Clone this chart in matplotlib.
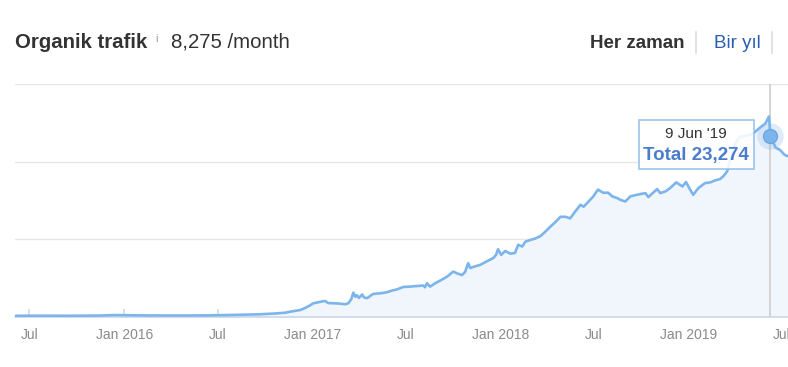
import numpy as np
import pandas as pd
import matplotlib
matplotlib.use("Agg")
from matplotlib import pyplot as plt
import matplotlib.dates as mdates
from matplotlib.ticker import FuncFormatter

plt.rcParams['font.family'] = ['Liberation Sans', 'DejaVu Sans']

# organic traffic
dates = ["2015-06-03", "2015-07-22", "2015-09-18", "2015-11-15", "2015-12-14",
         "2016-02-20", "2016-04-19", "2016-06-16", "2016-07-25", "2016-08-23",
         "2016-09-21", "2016-10-20", "2016-11-09", "2016-11-18", "2016-12-08",
         "2016-12-17", "2016-12-27", "2017-01-02", "2017-01-12", "2017-01-19",
         "2017-01-25", "2017-01-31", "2017-02-14", "2017-02-23", "2017-03-05",
         "2017-03-11", "2017-03-17", "2017-03-21", "2017-03-25", "2017-03-28",
         "2017-04-01", "2017-04-07", "2017-04-11", "2017-04-17", "2017-04-28",
         "2017-05-12", "2017-05-24", "2017-06-04", "2017-06-14", "2017-06-26",
         "2017-07-09", "2017-07-25", "2017-08-04", "2017-08-07", "2017-08-11",
         "2017-08-17", "2017-08-27", "2017-09-06", "2017-09-19", "2017-10-01",
         "2017-10-09", "2017-10-18", "2017-10-24", "2017-10-30", "2017-11-03",
         "2017-11-11", "2017-11-22", "2017-12-06", "2017-12-18", "2017-12-23",
         "2017-12-27", "2018-01-02", "2018-01-10", "2018-01-20", "2018-01-29",
         "2018-02-04", "2018-02-12", "2018-02-18", "2018-02-27", "2018-03-09",
         "2018-03-19", "2018-03-29", "2018-04-07", "2018-04-17", "2018-04-27",
         "2018-05-07", "2018-05-16", "2018-05-26", "2018-06-05", "2018-06-11",
         "2018-06-18", "2018-06-30", "2018-07-09", "2018-07-19", "2018-07-29",
         "2018-08-06", "2018-08-16", "2018-08-21", "2018-08-31", "2018-09-10",
         "2018-09-23", "2018-10-09", "2018-10-15", "2018-10-24", "2018-11-01",
         "2018-11-07", "2018-11-17", "2018-11-26", "2018-12-08", "2018-12-20",
         "2018-12-27", "2019-01-04", "2019-01-10", "2019-01-20", "2019-02-02",
         "2019-02-12", "2019-02-22", "2019-03-03", "2019-03-09", "2019-03-17",
         "2019-03-21", "2019-03-27", "2019-04-01", "2019-04-11", "2019-04-25",
         "2019-05-06", "2019-05-20", "2019-05-30", "2019-06-06", "2019-06-09",
         "2019-06-19", "2019-06-27", "2019-07-06", "2019-07-16"]
traffic = [155, 170, 160, 190, 250,
           200, 190, 210, 258, 300,
           350, 450, 555, 680, 900,
           1150, 1500, 1760, 1900, 2000,
           2060, 1800, 1760, 1720, 1640,
           1760, 2300, 3140, 2600, 2800,
           2450, 2900, 2500, 2430, 2960,
           3050, 3170, 3400, 3560, 3870,
           3910, 4000, 4050, 3830, 4350,
           3910, 4350, 4700, 5200, 5850,
           5600, 5400, 5800, 6930, 6300,
           6500, 6700, 7200, 7600, 8000,
           8730, 8000, 8500, 8150, 8250,
           9300, 9070, 9700, 9900, 10100,
           10400, 11000, 11600, 12200, 12900,
           12900, 12700, 13600, 14450, 14200,
           14670, 15530, 16400, 16000, 16000,
           15520, 15300, 15100, 14870, 15530,
           15740, 15950, 15440, 16000, 16470,
           15950, 16170, 16600, 17330, 16810,
           17380, 16390, 15740, 16600, 17250,
           17330, 17600, 17760, 18100, 18750,
           19860, 21000, 22300, 23220, 23350,
           23600, 24400, 24900, 25800, 23274,
           21800, 21540, 20900, 20600]

tick_dates = ["2015-07-01", "2016-01-01", "2016-07-01", "2017-01-01", "2017-07-01",
              "2018-01-01", "2018-07-01", "2019-01-01", "2019-07-01"]
y_grid = [0, 10000, 20000, 30000]
hover_date = "2019-06-09"
hover_value = 23274

x = pd.to_datetime(dates)
line_col = '#7cb5ec'

fig = plt.figure(figsize=(7.88, 3.67), dpi=100)
W, H = 788, 367
ax = fig.add_axes([15 / W, 1 - 317 / H, 773 / W, 233 / H])

ax.fill_between(x, traffic, 0, color='#f1f6fc', lw=0, zorder=1)
ax.plot(x, traffic, color=line_col, lw=1.9, zorder=3, solid_joinstyle='round')

ax.set_xlim(pd.Timestamp("2015-06-03"), pd.Timestamp("2019-07-13"))
ax.set_ylim(0, 30000)
ax.set_yticks(y_grid)
ax.yaxis.grid(True, color='#e6e6e6', lw=1)
ax.set_axisbelow(True)
ax.tick_params(axis='y', left=False, labelleft=False)
for s in ['top', 'left', 'right']:
    ax.spines[s].set_visible(False)
ax.spines['bottom'].set_color('#ccd6eb')
ax.spines['bottom'].set_linewidth(1.2)

ax.set_xticks(pd.to_datetime(tick_dates))
ax.xaxis.set_major_formatter(FuncFormatter(
    lambda v, p: mdates.num2date(v).strftime("Jan %Y") if mdates.num2date(v).month == 1 else "Jul"))
ax.tick_params(axis='x', direction='in', length=5.5, width=1.1, color='#ccd6eb',
               labelsize=10, labelcolor='#8a8a8a', pad=8)

# hover crosshair + marker
hd = pd.Timestamp(hover_date)
ax.axvline(hd, color='#cccccc', lw=1.2, zorder=2)
ax.plot([hd], [hover_value], 'o', ms=19, color=line_col, alpha=0.25, mec='none', zorder=4)
ax.plot([hd], [hover_value], 'o', ms=10, color=line_col, mec='#6aa6e0', mew=1, zorder=5)

# tooltip
bx0, by0, bx1, by1 = 639, 120, 754, 169
fig.patches.append(plt.Rectangle((bx0 / W, 1 - by1 / H), (bx1 - bx0) / W, (by1 - by0) / H,
                                 transform=fig.transFigure, facecolor='white', alpha=0.88,
                                 edgecolor='#8dbbe9', lw=1.2, zorder=10))
fig.text(696 / W, 1 - 138 / H, "9 Jun '19", ha='center', va='baseline',
         fontsize=11, color='#333333', zorder=11)
fig.text(696 / W, 1 - 160 / H, "Total 23,274", ha='center', va='baseline',
         fontsize=13.5, fontweight='bold', color='#4a7dcb', zorder=11)

# header
fig.text(15 / W, 1 - 47.5 / H, "Organik trafik", fontsize=14.7, fontweight='bold',
         color='#333333', va='baseline')
fig.text(155 / W, 1 - 42 / H, "i", fontsize=8, color='#999999', va='baseline')
fig.text(171 / W, 1 - 47.5 / H, "8,275 /month", fontsize=14.7, color='#333333', va='baseline')
fig.text(590 / W, 1 - 48 / H, "Her zaman", fontsize=13.5, fontweight='bold',
         color='#333333', va='baseline')
fig.text(714 / W, 1 - 48 / H, "Bir yıl", fontsize=13.5, color='#2a5db0', va='baseline')
for sx in [696, 772]:
    fig.add_artist(plt.Line2D([sx / W, sx / W], [1 - 32 / H, 1 - 53 / H],
                              color='#dddddd', lw=1.2))

fig.savefig("out.png", dpi=100, facecolor='white')
